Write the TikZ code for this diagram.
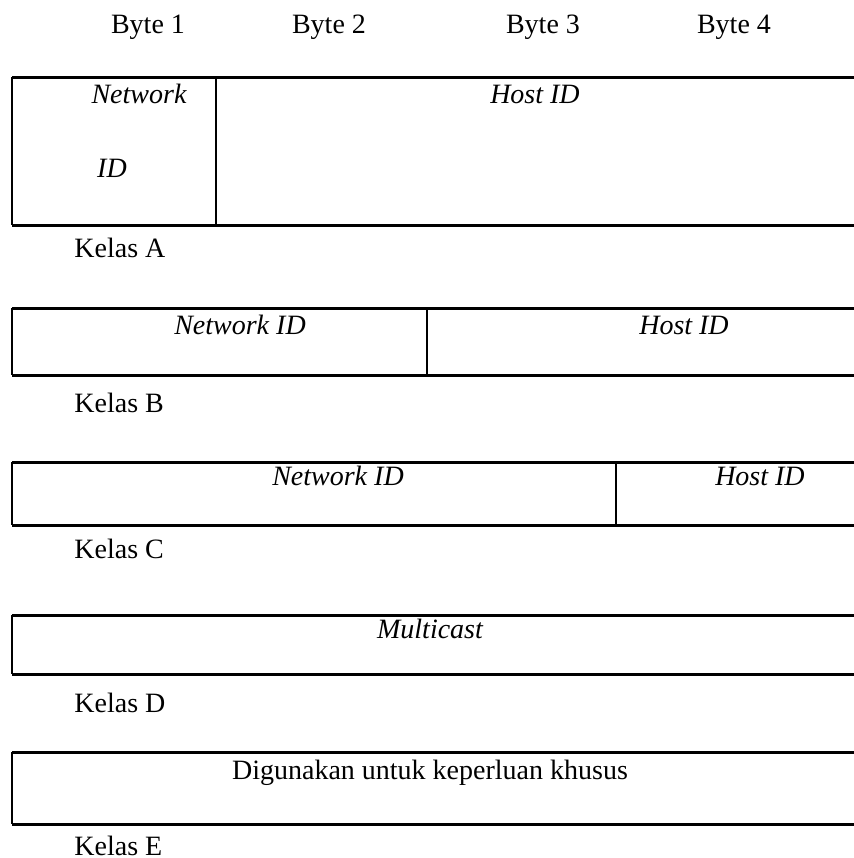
\documentclass[tikz,border=0pt]{standalone}
\usepackage{fontspec}
\setmainfont{Liberation Serif}
\tikzset{
  garish/.style={line width=1.5pt},
  tegak/.style={line width=1pt},
  teks/.style={inner sep=0pt,anchor=base,font=\fontsize{14}{17}\selectfont},
  miring/.style={teks,font=\fontsize{14}{17}\selectfont\itshape},
  kelas/.style={teks,anchor=base west}
}
\begin{document}
\begin{tikzpicture}[x=0.5pt,y=-0.5pt]
\useasboundingbox (0,0) rectangle (854,858);
% Batas kiri dan kanan
\def\kiri{12}
\def\kanan{854}

% Label byte
\node[teks] (b1) at (148,33) {Byte 1};
\node[teks] (b2) at (329,33) {Byte 2};
\node[teks] (b3) at (543,33) {Byte 3};
\node[teks] (b4) at (734,33) {Byte 4};

% Kelas A
\draw[garish] (\kiri,77) -- (\kanan,77);
\draw[garish] (\kiri,225) -- (\kanan,225);
\draw[tegak] (\kiri,77) -- (\kiri,225);
\draw[tegak] (216,77) -- (216,225);
\node[miring] (netA) at (139,103) {Network};
\node[miring] (idA) at (112,177) {ID};
\node[miring] (hostA) at (535,103) {Host ID};
\node[kelas] (kA) at (74,257) {Kelas A};

% Kelas B
\draw[garish] (\kiri,308) -- (\kanan,308);
\draw[garish] (\kiri,375) -- (\kanan,375);
\draw[tegak] (\kiri,308) -- (\kiri,375);
\draw[tegak] (427,308) -- (427,375);
\node[miring] (netB) at (240,334) {Network ID};
\node[miring] (hostB) at (684,334) {Host ID};
\node[kelas] (kB) at (74,412) {Kelas B};

% Kelas C
\draw[garish] (\kiri,462) -- (\kanan,462);
\draw[garish] (\kiri,525) -- (\kanan,525);
\draw[tegak] (\kiri,462) -- (\kiri,525);
\draw[tegak] (616,462) -- (616,525);
\node[miring] (netC) at (338,485) {Network ID};
\node[miring] (hostC) at (760,485) {Host ID};
\node[kelas] (kC) at (74,558) {Kelas C};

% Kelas D
\draw[garish] (\kiri,615) -- (\kanan,615);
\draw[garish] (\kiri,674) -- (\kanan,674);
\draw[tegak] (\kiri,615) -- (\kiri,674);
\node[miring] (mc) at (430,638) {Multicast};
\node[kelas] (kD) at (74,712) {Kelas D};

% Kelas E
\draw[garish] (\kiri,752) -- (\kanan,752);
\draw[garish] (\kiri,824) -- (\kanan,824);
\draw[tegak] (\kiri,752) -- (\kiri,824);
\node[teks] (khusus) at (430,779) {Digunakan untuk keperluan khusus};
\node[kelas] (kE) at (74,855) {Kelas E};
\end{tikzpicture}
\end{document}
